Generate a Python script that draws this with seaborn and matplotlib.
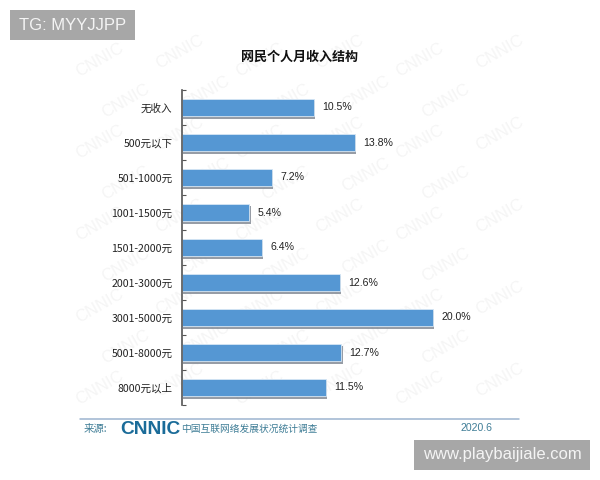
"""CNNIC monthly income structure chart
"""
import matplotlib
matplotlib.use("Agg")
import matplotlib.patheffects as pe
import matplotlib.pyplot as plt
import pandas as pd
import seaborn as sns
from matplotlib.lines import Line2D
from matplotlib.patches import Rectangle

CATEGORIES = ["无收入", "500元以下", "501-1000元", "1001-1500元", "1501-2000元",
              "2001-3000元", "3001-5000元", "5001-8000元", "8000元以上"]
VALUES = [10.5, 13.8, 7.2, 5.4, 6.4, 12.6, 20.0, 12.7, 11.5]
TITLE = "网民个人月收入结构"
SOURCE = "来源:"
LOGO = "CNNIC"
SURVEY = "中国互联网络发展状况统计调查"
DATE = "2020.6"
TAG_LEFT = "TG: MYYJJPP"
TAG_RIGHT = "www.playbaijiale.com"

W, H = 600, 480
BAR_BLUE = "#5597d3"
TEAL = "#3f7d96"
TAG_GREY = "#a7a7a7"

sns.set_style("white")
plt.rcParams["font.family"] = ["Noto Sans CJK SC", "DejaVu Sans"]


def fx(px):
    return px / W


def fy(px):
    # pixel rows are counted from the top of the picture
    return 1 - px / H


def add_watermark(fig):
    """faint rotated CNNIC marks behind the chart."""
    for row in range(9):
        for col in range(6):
            x = 100 + col * 80 + (row % 2) * 26
            y = 60 + row * 41 - (col % 2) * 8
            if x > 515:
                continue
            fig.text(fx(x), fy(y), LOGO, color="#f5f5f5", fontsize=12, rotation=30,
                     ha="center", va="center", zorder=-1,
                     family=["Liberation Sans"])


def add_tag(fig, left, top, right, bottom, label, fontsize):
    fig.add_artist(Rectangle((fx(left), fy(bottom)), fx(right - left), (bottom - top) / H,
                             transform=fig.transFigure, color=TAG_GREY, lw=0, zorder=5))
    fig.text(fx((left + right) / 2), fy((top + bottom) / 2), label, color="#f4f4f4",
             fontsize=fontsize, ha="center", va="center", zorder=6,
             family=["Liberation Sans"])


def main():
    df = pd.DataFrame({"category": CATEGORIES, "value": VALUES})

    fig = plt.figure(figsize=(W / 100, H / 100), dpi=100)
    add_watermark(fig)

    ax = fig.add_axes([fx(181.5), fy(405), 277 / W, 315 / H])
    ax.patch.set_alpha(0)
    sns.barplot(data=df, y="category", x="value", color=BAR_BLUE, saturation=1,
                width=0.49, orient="h", ax=ax, edgecolor="#d6e6f4", linewidth=0.6)
    for bar in ax.patches:
        bar.set_path_effects([pe.SimplePatchShadow(offset=(0.8, -1.8), shadow_rgbFace="#7d8590",
                                                   alpha=0.8), pe.Normal()])

    ax.set_xlim(0, 22)
    ax.set_ylim(8.5, -0.5)
    ax.set_xlabel("")
    ax.set_ylabel("")
    ax.set_xticks([])
    sns.despine(ax=ax, top=True, right=True, bottom=True)
    ax.spines["left"].set_color("#555555")
    ax.spines["left"].set_linewidth(1.2)

    # group ticks sit between the bars and point inwards
    ax.set_yticks([i - 0.5 for i in range(len(CATEGORIES) + 1)], minor=True)
    ax.tick_params(axis="y", which="minor", left=True, direction="in", length=3,
                   width=0.8, color="#555555")
    ax.tick_params(axis="y", which="major", left=False, pad=3, labelsize=7.6, labelcolor="#222222")

    for i, val in enumerate(VALUES):
        ax.text(val + 0.65, i, f"{val:.1f}%", fontsize=7.6, color="#222222",
                ha="left", va="center", family=["Liberation Sans"])

    fig.text(fx(300), fy(57), TITLE, fontsize=9.4, fontweight="bold", color="#111111",
             ha="center", va="center")

    # footer
    fig.add_artist(Line2D([fx(80), fx(519)], [fy(419), fy(419)], color="#9db4cf", lw=1.1))
    fig.text(fx(84), fy(429), SOURCE, fontsize=7.5, color=TEAL, ha="left", va="center")
    fig.text(fx(120), fy(430), LOGO, fontsize=13.8, color="#1b6c99", fontweight="bold",
             ha="left", va="center", family=["Liberation Sans"])
    fig.text(fx(181), fy(429), SURVEY, fontsize=7, color=TEAL, ha="left", va="center")
    fig.text(fx(460), fy(428), DATE, fontsize=7.6, color=TEAL, ha="left", va="center",
             family=["Liberation Sans"])

    add_tag(fig, 10, 10, 135, 40, TAG_LEFT, 12)
    add_tag(fig, 414, 440, 590, 470, TAG_RIGHT, 12)

    fig.savefig("out.png", dpi=100)
    plt.close(fig)


if __name__ == "__main__":
    main()
